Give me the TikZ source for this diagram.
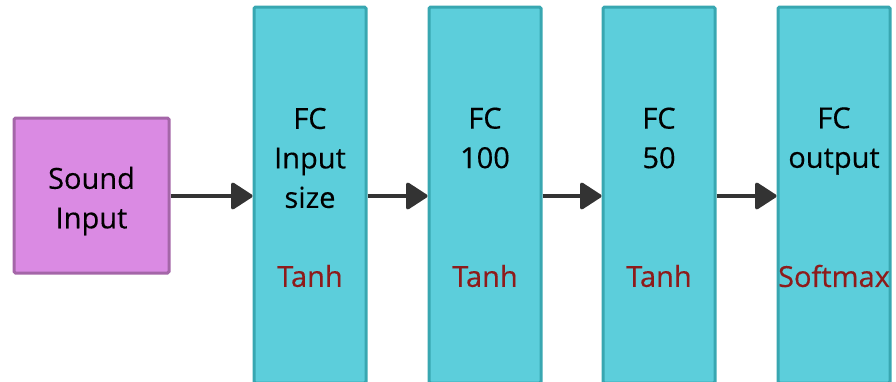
\documentclass[tikz,border=0pt]{standalone}
\usepackage{fontspec}
\setmainfont{Open Sans}[FakeBold=0.35]
\newfontfamily\labelfont{Open Sans}[FakeBold=0.35]
\usetikzlibrary{arrows.meta}
\definecolor{inFill}{HTML}{DA8AE3}
\definecolor{inLine}{HTML}{A466A8}
\definecolor{fcFill}{HTML}{5CCEDB}
\definecolor{fcLine}{HTML}{38A7B1}
\definecolor{actRed}{HTML}{8E1B1B}
\definecolor{arrowGrey}{HTML}{333333}
\begin{document}
\begin{tikzpicture}[x=1pt,y=-1pt,
  inbox/.style={draw=inLine,fill=inFill,line width=3pt,rounded corners=1.5pt},
  fcbox/.style={draw=fcLine,fill=fcFill,line width=3pt,rounded corners=1.5pt},
  lbl/.style={font=\labelfont\fontsize{29}{39.5}\selectfont,align=center,inner sep=0pt,anchor=center},
  act/.style={font=\labelfont\fontsize{29}{34}\selectfont,text=actRed,inner sep=0pt,anchor=center},
  flow/.style={draw=arrowGrey,line width=3.5pt,-{Triangle[length=23pt,width=29pt,round]}}]
\useasboundingbox (0,0) rectangle (896,381);
% input block
\node[inbox,minimum width=155pt,minimum height=155pt,inner sep=0pt] (in) at (91.5,195.5) {};
\node[lbl] (inT) at (91.5,201) {Sound\\Input};
% fully connected layers
\foreach \n/\x in {f1/310,f2/485,f3/659,f4/834}{
  \node[fcbox,minimum width=112pt,minimum height=376pt,inner sep=0pt] (\n) at (\x,195) {};
}
\node[lbl] (t1) at (310,158) {FC\\Input\\size};
\node[lbl] (t2) at (485,138) {FC\\100};
\node[lbl] (t3) at (659,138) {FC\\50};
\node[lbl] (t4) at (834,141) {FC\\output};
\node[act] (a1) at (310,276) {Tanh};
\node[act] (a2) at (485,276) {Tanh};
\node[act] (a3) at (659,276) {Tanh};
\node[act] (a4) at (834,276) {Softmax};
% connections
\draw[flow] (in.east |- 0,196) -- (f1.west |- 0,196);
\draw[flow] (f1.east |- 0,196) -- (f2.west |- 0,196);
\draw[flow] (f2.east |- 0,196) -- (f3.west |- 0,196);
\draw[flow] (f3.east |- 0,196) -- (f4.west |- 0,196);
\end{tikzpicture}
\end{document}
